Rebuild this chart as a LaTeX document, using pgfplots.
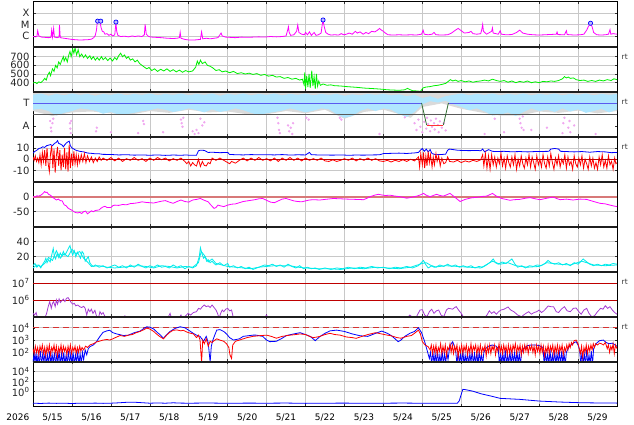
\documentclass[border=0pt]{standalone}
\usepackage{fontspec}
\setmainfont{DejaVu Sans}
\usepackage{pgfplots}
\pgfplotsset{compat=1.18}
\definecolor{mag}{RGB}{255,0,255}
\definecolor{grn}{RGB}{0,240,0}
\definecolor{cyn}{RGB}{0,235,235}
\definecolor{lblue}{RGB}{176,230,255}
\definecolor{lgray}{RGB}{218,218,218}
\definecolor{pinkc}{RGB}{240,168,240}
\definecolor{purp}{RGB}{165,60,210}
\definecolor{tblue}{RGB}{90,90,240}
\definecolor{dred}{RGB}{190,0,0}
\definecolor{dashred}{RGB}{215,50,50}
\definecolor{rosy}{RGB}{215,120,120}
\definecolor{dgreen}{RGB}{50,110,50}
\definecolor{gridc}{RGB}{200,200,200}
\tikzset{rt/.style={anchor=west, inner sep=0pt, xshift=4.5pt, font=\fontsize{7.5}{8}\selectfont, text=black!80}}
\pgfplotsset{
  panel/.style={
    scale only axis, width=584pt, height=45pt, xmin=0, xmax=15,
    anchor=south west, clip mode=individual,
    axis line style={black, line width=0.7pt},
    xtick={1,...,14}, xticklabels={}, xmajorgrids, ymajorgrids,
    grid style={gridc, line width=0.6pt},
    tick align=inside, major tick length=2.5pt,
    tick style={black!80, line width=0.5pt},
    yticklabel style={font=\fontsize{10}{11}\selectfont, text=black!85},
    every axis plot/.append style={no marks, line width=0.8pt},
  },
}
\begin{document}
\begin{tikzpicture}[x=1pt,y=1pt]
\useasboundingbox (0,0) rectangle (634,424);

% ---------- Panel 1: X-ray ----------
\begin{axis}[panel, at={(33pt,377.3pt)}, ymin=-6.93, ymax=-3.04, ytick={-6,-5,-4}, yticklabels={C,M,X}]
\addplot[mag] coordinates {(0.00,-6.05)(0.06,-6.08)(0.10,-6.05)(0.12,-5.55)(0.15,-6.0)(0.22,-6.1)(0.30,-6.12)(0.40,-6.15)(0.46,-6.12)(0.48,-5.5)(0.50,-6.1)(0.53,-5.35)(0.55,-6.1)(0.62,-6.15)(0.67,-6.1)(0.68,-5.05)(0.70,-6.15)(0.80,-6.2)(0.90,-6.25)(1.00,-6.3)(1.10,-6.33)(1.20,-6.35)(1.30,-6.34)(1.40,-6.33)(1.50,-6.28)(1.56,-6.15)(1.60,-5.95)(1.63,-5.5)(1.65,-4.85)(1.68,-4.75)(1.72,-4.8)(1.75,-5.3)(1.78,-5.6)(1.82,-5.65)(1.85,-5.85)(1.90,-5.8)(1.95,-5.95)(2.00,-5.85)(2.05,-6.0)(2.10,-5.9)(2.12,-5.2)(2.13,-4.85)(2.15,-5.6)(2.18,-5.95)(2.25,-6.05)(2.35,-6.02)(2.45,-6.08)(2.55,-6.0)(2.62,-6.05)(2.70,-6.0)(2.80,-6.05)(2.86,-5.9)(2.88,-5.0)(2.91,-5.85)(2.97,-6.05)(3.05,-6.1)(3.15,-6.12)(3.30,-6.15)(3.45,-6.2)(3.60,-6.22)(3.70,-6.2)(3.76,-6.15)(3.78,-5.68)(3.80,-6.2)(3.90,-6.3)(4.00,-6.35)(4.15,-6.35)(4.30,-6.3)(4.33,-5.65)(4.36,-6.25)(4.45,-6.2)(4.55,-6.25)(4.65,-6.2)(4.75,-6.15)(4.80,-5.9)(4.83,-5.75)(4.86,-6.0)(4.95,-6.1)(5.05,-6.12)(5.20,-6.15)(5.35,-6.1)(5.50,-6.12)(5.65,-6.1)(5.80,-6.08)(5.95,-6.1)(6.10,-6.05)(6.25,-6.08)(6.40,-6.05)(6.50,-6.0)(6.54,-5.5)(6.56,-5.2)(6.58,-5.7)(6.62,-5.95)(6.70,-5.9)(6.77,-5.6)(6.80,-5.05)(6.83,-5.7)(6.90,-5.85)(6.97,-5.9)(7.00,-5.7)(7.05,-5.9)(7.10,-5.65)(7.15,-5.95)(7.22,-5.7)(7.27,-5.95)(7.33,-5.9)(7.40,-5.75)(7.43,-5.0)(7.45,-4.65)(7.48,-5.2)(7.52,-5.7)(7.58,-5.85)(7.65,-5.92)(7.75,-5.9)(7.85,-5.92)(7.92,-5.8)(7.98,-5.9)(8.05,-5.85)(8.12,-5.75)(8.20,-5.85)(8.28,-5.6)(8.33,-5.75)(8.40,-5.65)(8.48,-5.85)(8.55,-5.7)(8.62,-5.8)(8.70,-5.6)(8.78,-5.65)(8.85,-5.5)(8.90,-5.35)(8.95,-5.5)(9.00,-5.6)(9.05,-5.75)(9.12,-5.9)(9.25,-5.92)(9.40,-5.9)(9.55,-5.92)(9.70,-5.9)(9.85,-5.92)(9.98,-5.85)(10.02,-5.5)(10.05,-5.85)(10.15,-5.9)(10.25,-5.85)(10.30,-5.7)(10.35,-5.9)(10.50,-5.92)(10.65,-5.9)(10.75,-5.75)(10.85,-5.5)(10.92,-5.35)(11.00,-5.55)(11.08,-5.75)(11.20,-5.7)(11.25,-5.6)(11.30,-5.8)(11.40,-5.85)(11.50,-5.8)(11.53,-5.4)(11.55,-5.0)(11.57,-5.6)(11.65,-5.85)(11.78,-5.6)(11.80,-5.3)(11.82,-5.75)(11.95,-5.85)(12.00,-5.55)(12.03,-5.85)(12.15,-5.9)(12.30,-5.88)(12.42,-5.7)(12.50,-5.5)(12.58,-5.75)(12.70,-5.85)(12.85,-5.9)(13.00,-5.92)(13.15,-5.9)(13.25,-5.88)(13.44,-5.85)(13.46,-5.65)(13.48,-5.88)(13.65,-5.9)(13.70,-5.55)(13.72,-5.88)(13.90,-5.92)(14.05,-5.9)(14.15,-5.85)(14.22,-5.5)(14.27,-5.15)(14.32,-4.95)(14.36,-5.2)(14.40,-5.7)(14.48,-5.9)(14.60,-5.92)(14.70,-5.9)(14.78,-5.85)(14.82,-5.45)(14.84,-5.85)(14.90,-5.8)(15.0,-5.85)};
\addplot[only marks, mark=*, mark size=2.1pt, mark options={draw=blue, fill=blue!25!white, line width=0.7pt}] coordinates {(1.66,-4.72)(1.74,-4.72)(2.13,-4.8)(7.45,-4.62)(14.32,-4.9)};
\end{axis}

% ---------- Panel 2: speed ----------
\begin{axis}[panel, at={(33pt,332.3pt)}, ymin=296, ymax=815, ytick={400,500,600,700}, yticklabels={400,500,600,700}]
\addplot[grn] coordinates {(0,395)(0.05,405)(0.1,390)(0.15,410)(0.2,400)(0.25,420)(0.3,450)(0.34,430)(0.38,490)(0.42,520)(0.45,480)(0.5,560)(0.54,530)(0.58,600)(0.62,570)(0.66,640)(0.7,610)(0.74,660)(0.78,700)(0.8,650)(0.84,690)(0.88,640)(0.92,720)(0.95,760)(0.98,700)(1.02,790)(1.05,740)(1.08,800)(1.12,720)(1.16,780)(1.2,700)(1.25,730)(1.3,690)(1.35,720)(1.4,680)(1.46,710)(1.5,670)(1.55,700)(1.6,660)(1.65,690)(1.7,660)(1.76,700)(1.8,665)(1.86,690)(1.92,655)(1.98,685)(2.04,650)(2.1,690)(2.15,665)(2.2,710)(2.25,740)(2.3,700)(2.35,720)(2.4,680)(2.45,700)(2.5,660)(2.56,675)(2.62,640)(2.68,660)(2.74,620)(2.8,600)(2.86,580)(2.92,560)(2.98,575)(3.05,540)(3.12,560)(3.2,530)(3.28,555)(3.36,535)(3.44,560)(3.52,530)(3.6,550)(3.68,525)(3.76,545)(3.84,520)(3.92,540)(4.0,525)(4.1,535)(4.18,580)(4.22,650)(4.26,610)(4.3,660)(4.35,620)(4.42,640)(4.48,600)(4.55,590)(4.62,570)(4.7,540)(4.78,550)(4.86,525)(4.95,535)(5.05,515)(5.15,530)(5.25,505)(5.35,515)(5.45,500)(5.55,510)(5.65,495)(5.75,505)(5.85,485)(5.95,495)(6.05,475)(6.15,485)(6.25,465)(6.35,470)(6.45,450)(6.55,460)(6.65,440)(6.75,450)(6.85,430)(6.92,440)(6.96,380)(6.98,520)(7.0,330)(7.03,480)(7.06,350)(7.09,500)(7.12,340)(7.16,540)(7.19,360)(7.22,470)(7.25,330)(7.28,500)(7.31,360)(7.34,420)(7.38,370)(7.45,385)(7.55,370)(7.65,375)(7.75,365)(7.9,362)(8.05,355)(8.2,350)(8.35,345)(8.5,338)(8.65,334)(8.8,330)(8.95,325)(9.1,318)(9.25,315)(9.4,312)(9.55,318)(9.62,335)(9.68,320)(9.75,308)(9.85,305)(9.95,300)(10.02,340)(10.1,350)(10.2,355)(10.3,365)(10.4,370)(10.5,380)(10.6,392)(10.68,420)(10.72,435)(10.78,420)(10.85,430)(10.92,415)(11.0,425)(11.1,410)(11.2,420)(11.3,405)(11.4,415)(11.5,420)(11.6,430)(11.7,420)(11.8,440)(11.9,425)(12.0,415)(12.1,425)(12.2,405)(12.3,420)(12.4,400)(12.5,415)(12.6,405)(12.7,420)(12.8,400)(12.9,410)(13.0,400)(13.1,415)(13.2,410)(13.3,420)(13.4,415)(13.5,425)(13.6,445)(13.65,470)(13.7,455)(13.75,465)(13.8,450)(13.88,455)(13.95,435)(14.05,425)(14.15,430)(14.25,415)(14.35,425)(14.45,415)(14.55,430)(14.65,420)(14.75,435)(14.85,425)(14.92,445)(15.0,435)};
\node[rt] at (rel axis cs:1,0.78) {rt};
\end{axis}

% ---------- Panel 3: T / A ----------
\begin{axis}[panel, at={(33pt,287.3pt)}, ymin=0, ymax=1, ytick={0.24,0.75}, yticklabels={A,T}, ymajorgrids=false]
\addplot[fill=lgray, draw=none] coordinates {(0,0.97)(15,0.97)(15,0.57)(14.5,0.52)(14,0.58)(13.5,0.53)(13,0.56)(12.5,0.47)(12,0.47)(11.5,0.54)(11,0.62)(10.5,0.74)(10,0.66)(9.7,0.42)(9.5,0.48)(9,0.6)(8.5,0.55)(8,0.4)(7.5,0.6)(7,0.52)(6.5,0.57)(6,0.5)(5.5,0.5)(5,0.56)(4.5,0.54)(4,0.6)(3.5,0.53)(3,0.57)(2.5,0.49)(2,0.52)(1.5,0.56)(1,0.54)(0.5,0.46)(0,0.57)};
\addplot[fill=lblue, draw=none] coordinates {(0,0.93)(0.2,0.96)(0.4,0.91)(0.6,0.95)(0.8,0.92)(1.0,0.96)(1.2,0.93)(1.4,0.95)(1.6,0.91)(1.8,0.95)(2.0,0.93)(2.2,0.96)(2.4,0.92)(2.6,0.95)(2.8,0.93)(3.0,0.96)(3.2,0.92)(3.4,0.95)(3.6,0.93)(3.8,0.96)(4.0,0.92)(4.2,0.95)(4.4,0.93)(4.6,0.96)(4.8,0.91)(5.0,0.95)(5.2,0.93)(5.4,0.96)(5.6,0.92)(5.8,0.95)(6.0,0.93)(6.2,0.96)(6.4,0.92)(6.6,0.95)(6.8,0.93)(7.0,0.96)(7.2,0.92)(7.4,0.95)(7.6,0.93)(7.8,0.95)(8.0,0.91)(8.2,0.94)(8.4,0.92)(8.6,0.95)(8.8,0.93)(9.0,0.95)(9.2,0.92)(9.4,0.94)(9.6,0.9)(9.8,0.93)(10.0,0.86)(10.2,0.9)(10.4,0.84)(10.6,0.9)(10.8,0.93)(11.0,0.96)(11.2,0.92)(11.4,0.95)(11.6,0.93)(11.8,0.96)(12.0,0.92)(12.2,0.95)(12.4,0.93)(12.6,0.96)(12.8,0.92)(13.0,0.95)(13.2,0.93)(13.4,0.96)(13.6,0.92)(13.8,0.95)(14.0,0.93)(14.2,0.96)(14.4,0.92)(14.6,0.95)(14.8,0.93)(15,0.95)(15,0.6)(14.8,0.54)(14.6,0.62)(14.4,0.57)(14.2,0.53)(14.0,0.61)(13.8,0.56)(13.6,0.63)(13.4,0.55)(13.2,0.6)(13.0,0.57)(12.8,0.63)(12.6,0.55)(12.4,0.46)(12.2,0.54)(12.0,0.49)(11.8,0.47)(11.6,0.56)(11.4,0.63)(11.2,0.59)(11.0,0.66)(10.8,0.72)(10.6,0.8)(10.4,0.76)(10.2,0.79)(10.0,0.72)(9.8,0.55)(9.6,0.44)(9.4,0.5)(9.2,0.6)(9.0,0.63)(8.8,0.57)(8.6,0.63)(8.4,0.57)(8.2,0.46)(8.0,0.42)(7.8,0.5)(7.6,0.61)(7.4,0.63)(7.2,0.58)(7.0,0.54)(6.8,0.59)(6.6,0.63)(6.4,0.58)(6.2,0.55)(6.0,0.52)(5.8,0.48)(5.6,0.53)(5.4,0.59)(5.2,0.63)(5.0,0.58)(4.8,0.55)(4.6,0.61)(4.4,0.54)(4.2,0.59)(4.0,0.63)(3.8,0.58)(3.6,0.55)(3.4,0.6)(3.2,0.63)(3.0,0.59)(2.8,0.57)(2.6,0.53)(2.4,0.5)(2.2,0.49)(2.0,0.55)(1.8,0.51)(1.6,0.58)(1.4,0.61)(1.2,0.63)(1.0,0.57)(0.8,0.53)(0.6,0.47)(0.4,0.57)(0.2,0.62)(0,0.6)};
\addplot[only marks, mark=square*, mark size=0.75pt, pinkc] coordinates {(0.44,0.35)(0.46,0.2)(0.47,0.12)(0.5,0.3)(0.52,0.4)(0.95,0.3)(0.96,0.18)(0.97,0.08)(0.98,0.35)(1.62,0.12)(1.64,0.2)(2.0,0.1)(2.7,0.08)(2.83,0.35)(2.85,0.28)(3.34,0.1)(3.8,0.38)(3.82,0.3)(3.84,0.22)(3.86,0.42)(4.1,0.12)(4.15,0.06)(4.2,0.15)(4.25,0.08)(4.3,0.4)(4.35,0.25)(4.4,0.32)(6.28,0.42)(6.3,0.3)(6.32,0.15)(6.34,0.08)(6.55,0.25)(6.58,0.12)(6.62,0.2)(6.66,0.06)(6.68,0.3)(7.02,0.42)(7.08,0.38)(7.88,0.42)(7.92,0.38)(8.9,0.06)(9.55,0.43)(9.8,0.3)(9.85,0.15)(9.9,0.38)(9.95,0.22)(10.0,0.1)(10.05,0.33)(10.1,0.18)(10.12,0.42)(10.15,0.28)(10.2,0.12)(10.22,0.36)(10.25,0.22)(10.3,0.3)(10.32,0.16)(10.35,0.4)(10.4,0.26)(10.42,0.1)(10.45,0.34)(10.5,0.2)(10.55,0.3)(10.6,0.14)(11.6,0.06)(11.86,0.4)(12.1,0.1)(12.5,0.4)(12.52,0.3)(12.55,0.2)(12.58,0.45)(12.6,0.15)(12.8,0.15)(13.2,0.2)(13.6,0.08)(13.62,0.3)(13.65,0.42)(13.75,0.2)(13.78,0.35)(13.8,0.1)(13.9,0.25)(14.45,0.06)};
\addplot[black!65, line width=0.7pt] coordinates {(0,0.5)(15,0.5)};
\addplot[tblue] coordinates {(0,0.75)(9.98,0.75)};
\addplot[tblue] coordinates {(10.67,0.75)(15,0.75)};
\addplot[dgreen] coordinates {(9.98,0.75)(10.11,0.26)};
\addplot[dgreen] coordinates {(10.54,0.26)(10.67,0.75)};
\addplot[red!80, line width=1pt] coordinates {(10.11,0.26)(10.54,0.26)};
\node[rt] at (rel axis cs:1,0.78) {rt};
\end{axis}

% ---------- Panel 4: Bt / Bz ----------
\begin{axis}[panel, at={(33pt,242.3pt)}, ymin=-20, ymax=20, ytick={-10,0,10}, yticklabels={-10,0,10}]
\addplot[blue] coordinates {(0,5.5)(0.05,7)(0.1,8)(0.15,9.5)(0.2,10)(0.25,11)(0.3,10.5)(0.35,12)(0.4,12.5)(0.45,13)(0.5,12)(0.55,14)(0.6,15)(0.63,16.5)(0.66,14)(0.7,13.5)(0.75,12.5)(0.78,11)(0.82,13)(0.86,14.5)(0.9,15.5)(0.93,16)(0.96,12)(1.0,10)(1.05,9)(1.1,8)(1.15,7.5)(1.2,7)(1.3,6.5)(1.4,5.5)(1.5,5.2)(1.6,4.8)(1.7,4.8)(1.8,4.3)(2.0,4.2)(2.2,3.8)(2.4,4)(2.6,3.6)(2.8,3.8)(3.0,3.5)(3.2,3.8)(3.4,3.4)(3.6,3.7)(3.8,3.5)(3.95,3.8)(4.0,3.5)(4.2,3.6)(4.25,7.5)(4.3,8)(4.4,7.8)(4.5,6)(4.6,6.2)(4.8,5.8)(5.0,6)(5.05,4.2)(5.2,4)(5.4,3.8)(5.6,4.1)(5.8,3.9)(6.0,4)(6.2,3.8)(6.4,4.1)(6.6,3.7)(6.8,3.9)(7.0,3.8)(7.1,6)(7.15,4)(7.3,3.8)(7.5,3.7)(7.7,3.6)(7.9,3.8)(8.1,3.5)(8.3,3.7)(8.5,3.6)(8.7,3.8)(8.9,3.9)(9.0,5)(9.2,5.2)(9.4,5.4)(9.6,5.1)(9.8,5.6)(9.9,6)(9.95,8)(10.0,9.5)(10.05,7)(10.1,9)(10.15,6.5)(10.2,8.5)(10.25,5)(10.35,4)(10.5,4.2)(10.6,4.5)(10.65,8)(10.7,9)(10.8,8.5)(10.9,8)(11.0,7.8)(11.2,7.6)(11.4,7.8)(11.5,7.5)(11.55,9)(11.6,6.5)(11.7,8.5)(11.8,7)(11.9,6.8)(12.1,7)(12.3,6.6)(12.5,6.8)(12.7,6.5)(12.9,6.8)(13.1,6.9)(13.25,7)(13.3,9)(13.4,9.5)(13.5,9)(13.55,7)(13.7,6.8)(13.9,6.5)(14.1,6.8)(14.3,6.2)(14.5,6.8)(14.7,6.5)(14.85,5.8)(15,6)};
\addplot[red] coordinates {(0,2)(0.03,-1)(0.06,3)(0.09,-2)(0.12,1)(0.15,-3)(0.18,4)(0.21,-5)(0.24,6)(0.27,-2)(0.3,8)(0.33,-6)(0.36,10)(0.39,-4)(0.42,-11)(0.45,5)(0.48,12)(0.51,-8)(0.54,9)(0.57,-12)(0.6,3)(0.63,11)(0.66,-6)(0.69,8)(0.72,-10)(0.75,4)(0.78,-7)(0.81,10)(0.84,-9)(0.87,6)(0.9,-11)(0.93,13)(0.96,-8)(0.99,5)(1.02,-6)(1.05,7)(1.08,-4)(1.11,4)(1.14,-5)(1.17,3)(1.2,-3)(1.24,4)(1.28,-2)(1.32,5)(1.36,-3)(1.4,3)(1.45,-2)(1.5,2)(1.55,-3)(1.6,1)(1.65,-2)(1.7,2)(1.75,-1)(1.8,1)(1.9,-1)(2.0,1.5)(2.1,-1.5)(2.2,1)(2.3,-2)(2.4,0.5)(2.5,-1)(2.6,1.5)(2.7,-1)(2.8,0.5)(2.9,-2)(3.0,1)(3.1,-1)(3.2,1.5)(3.3,-0.5)(3.4,1)(3.5,-1.5)(3.6,0.5)(3.7,-1)(3.8,1)(3.9,-2)(3.95,-4)(4.0,-2)(4.05,-6)(4.1,-3)(4.15,-5)(4.2,-6)(4.25,0)(4.3,-6.5)(4.35,-2)(4.4,-5.5)(4.45,-6)(4.5,-3)(4.55,-4)(4.6,1)(4.7,-1)(4.8,1)(4.9,-1)(5.0,-3)(5.05,-4)(5.1,-2)(5.2,-3.5)(5.3,-1)(5.4,1)(5.5,-1.5)(5.6,1)(5.7,-1)(5.8,1.5)(5.9,-1)(6.0,0.5)(6.1,-1.5)(6.2,1)(6.3,-2)(6.4,1)(6.5,-1)(6.6,1.5)(6.7,-1)(6.8,1)(6.9,-1.5)(7.0,1)(7.1,-1)(7.2,0.5)(7.3,-1)(7.4,1)(7.5,-1.5)(7.6,-2)(7.7,-0.5)(7.8,-2)(7.9,-1)(8.0,0.5)(8.1,-1)(8.2,1)(8.3,-1.5)(8.4,0.5)(8.5,-1)(8.6,1)(8.7,-1)(8.8,0.5)(8.9,-1.5)(9.0,-2)(9.1,-1)(9.2,-2.5)(9.3,-1)(9.4,-2)(9.5,-0.5)(9.6,-2)(9.7,0)(9.8,-1.5)(9.9,2)(9.93,-7)(9.96,5)(10.0,-5)(10.03,6)(10.06,-8)(10.09,3)(10.12,-6)(10.15,7)(10.18,-3)(10.21,4)(10.25,-7)(10.28,2)(10.31,-5)(10.35,5)(10.38,-2)(10.42,3)(10.46,-6)(10.5,1)(10.55,-4)(10.6,-3)(10.65,2)(10.7,-2)(10.8,-2.5)(10.9,-1)(11.0,-3)(11.1,-1.5)(11.2,-2.5)(11.3,-1)(11.4,-2)(11.5,-0.5)(11.55,4)(11.58,-6)(11.62,5)(11.66,-8)(11.7,3)(11.74,-9)(11.78,4)(11.82,-5)(11.86,2)(11.9,-7)(11.94,1)(11.98,-4)(12.02,5)(12.06,-6)(12.1,1)(12.14,-8)(12.18,3)(12.22,-3)(12.26,-7)(12.3,2)(12.34,-5)(12.38,4)(12.42,-9)(12.46,0)(12.5,-6)(12.54,3)(12.58,-4)(12.62,-8)(12.66,1)(12.7,-5)(12.74,4)(12.78,-7)(12.82,2)(12.86,-3)(12.9,-9)(12.94,3)(12.98,-5)(13.02,0)(13.06,-7)(13.1,4)(13.14,-4)(13.18,-8)(13.22,2)(13.26,-6)(13.3,5)(13.34,-3)(13.38,-9)(13.42,1)(13.46,-5)(13.5,3)(13.54,-7)(13.58,0)(13.62,-4)(13.66,4)(13.7,-8)(13.74,2)(13.78,-5)(13.82,-2)(13.86,-9)(13.9,3)(13.94,-4)(13.98,-7)(14.02,1)(14.06,-5)(14.1,3)(14.14,-8)(14.18,0)(14.22,-4)(14.26,-9)(14.3,2)(14.34,-6)(14.38,1)(14.42,-8)(14.46,-3)(14.5,-9)(14.54,2)(14.58,-5)(14.62,4)(14.66,-7)(14.7,-1)(14.74,-8)(14.78,3)(14.82,-5)(14.86,-2)(14.9,-9)(14.94,1)(14.97,-4)(15,-3)};
\addplot[dred, line width=0.7pt] coordinates {(0,0)(15,0)};
\node[rt] at (rel axis cs:1,0.78) {rt};
\end{axis}

% ---------- Panel 5: Dst ----------
\begin{axis}[panel, at={(33pt,197.3pt)}, ymin=-100, ymax=50, ytick={-50,0}, yticklabels={-50,0}]
\addplot[rosy, line width=1.8pt] coordinates {(0,0)(15,0)};
\addplot[mag] coordinates {(0,0)(0.05,-1)(0.1,3)(0.15,2)(0.2,5)(0.25,10)(0.3,17)(0.33,14)(0.36,15)(0.4,8)(0.45,5)(0.5,-2)(0.55,-6)(0.6,-11)(0.65,-8)(0.7,-13)(0.75,-14)(0.8,-27)(0.85,-30)(0.9,-38)(0.95,-42)(1.0,-45)(1.05,-50)(1.1,-53)(1.15,-54)(1.2,-52)(1.25,-56)(1.3,-50)(1.35,-48)(1.4,-57)(1.45,-52)(1.5,-47)(1.55,-50)(1.6,-46)(1.7,-44)(1.75,-38)(1.8,-34)(1.85,-32)(1.9,-36)(2.0,-36)(2.05,-30)(2.1,-28)(2.2,-29)(2.3,-26)(2.4,-27)(2.5,-23)(2.6,-22)(2.7,-20)(2.8,-17)(2.9,-19)(3.0,-20)(3.1,-21)(3.2,-18)(3.3,-15)(3.4,-13)(3.5,-18)(3.6,-22)(3.7,-16)(3.8,-11)(3.9,-16)(4.0,-18)(4.1,-11)(4.2,-9)(4.3,-6)(4.4,-12)(4.5,-17)(4.55,-25)(4.65,-39)(4.7,-36)(4.75,-28)(4.8,-30)(4.9,-33)(5.0,-28)(5.1,-25)(5.2,-24)(5.3,-20)(5.4,-16)(5.5,-14)(5.6,-12)(5.7,-10)(5.8,-7)(5.9,-6)(6.0,-12)(6.1,-18)(6.2,-20)(6.3,-14)(6.4,-8)(6.5,-6)(6.6,-10)(6.7,-14)(6.8,-16)(6.9,-17)(7.0,-14)(7.1,-11)(7.2,-10)(7.37,-11)(7.5,-9)(7.71,-6)(7.9,-7)(8.06,-8)(8.3,-9)(8.49,-10)(8.58,-5)(8.66,0)(8.77,5)(8.87,8)(8.95,6)(9.05,4)(9.17,5)(9.3,2)(9.43,0)(9.6,-5)(9.72,-2)(9.86,2)(9.95,6)(10.03,11)(10.1,5)(10.2,0)(10.3,5)(10.37,8)(10.45,4)(10.54,2)(10.6,5)(10.71,11)(10.8,2)(10.97,-16)(11.1,-9)(11.25,-4)(11.4,-2)(11.55,1)(11.65,2)(11.72,6)(11.8,11)(11.9,2)(12.04,-6)(12.15,-9)(12.25,-12)(12.35,-10)(12.5,-9)(12.65,-5)(12.77,-3)(12.9,-7)(13.02,-10)(13.2,-5)(13.36,-1)(13.45,-6)(13.54,-10)(13.7,-8)(13.87,-11)(14.05,-8)(14.22,-9)(14.4,-16)(14.56,-22)(14.7,-24)(14.82,-28)(14.92,-31)(15,-33)};
\end{axis}

% ---------- Panel 6: cyan ----------
\begin{axis}[panel, at={(33pt,152.3pt)}, ymin=0, ymax=60, ytick={20,40}, yticklabels={20,40}]
\addplot[cyn] coordinates {(0,5)(0.1,9)(0.2,7)(0.3,11)(0.4,19)(0.5,15)(0.6,28)(0.7,18)(0.8,24)(0.9,20)(1.0,30)(1.1,24)(1.2,27)(1.3,18)(1.4,13)(1.5,7)(1.7,8)(1.9,6)(2.1,5)(2.3,6)(2.5,7)(2.7,8)(2.9,7)(3.1,5)(3.3,8)(3.5,7)(3.7,5)(3.9,7)(4.1,6)(4.25,12)(4.32,27)(4.4,22)(4.5,13)(4.6,17)(4.7,11)(4.85,9)(5.0,7)(5.2,6)(5.4,5)(5.6,4)(5.8,6)(6.0,7)(6.2,8)(6.4,8)(6.6,8)(6.8,6)(7.0,5)(7.3,4)(7.6,4)(7.9,3)(8.2,5)(8.5,4)(8.8,6)(9.1,5)(9.4,4)(9.7,6)(10.0,11)(10.1,12)(10.3,6)(10.6,8)(10.9,7)(11.2,6)(11.5,5)(11.8,14)(12.0,10)(12.2,12)(12.4,8)(12.7,6)(13.0,7)(13.2,12)(13.5,10)(13.8,9)(14.1,14)(14.4,9)(14.7,8)(15,9)};
\addplot[cyn] coordinates {(0,8)(0.05,11)(0.1,6)(0.15,9)(0.2,5)(0.25,10)(0.3,14)(0.33,18)(0.36,12)(0.4,16)(0.44,13)(0.48,22)(0.52,31)(0.55,20)(0.58,17)(0.62,24)(0.66,19)(0.7,25)(0.74,21)(0.78,27)(0.82,22)(0.86,26)(0.9,30)(0.95,35)(0.98,28)(1.02,22)(1.06,28)(1.1,20)(1.14,26)(1.18,22)(1.22,18)(1.26,27)(1.3,24)(1.34,14)(1.38,17)(1.42,20)(1.46,12)(1.5,9)(1.55,7)(1.6,9)(1.7,6)(1.8,8)(1.9,5)(2.0,7)(2.1,9)(2.2,6)(2.3,8)(2.4,5)(2.5,9)(2.6,6)(2.7,10)(2.8,7)(2.9,5)(3.0,8)(3.1,6)(3.2,9)(3.3,6)(3.4,7)(3.5,5)(3.6,9)(3.7,6)(3.8,8)(3.9,4)(4.0,7)(4.1,5)(4.2,8)(4.27,20)(4.3,32)(4.34,24)(4.38,18)(4.42,20)(4.46,14)(4.5,16)(4.55,12)(4.6,14)(4.65,11)(4.7,9)(4.8,12)(4.9,8)(5.0,11)(5.05,6)(5.15,8)(5.25,5)(5.35,7)(5.45,4)(5.55,6)(5.65,3)(5.75,5)(5.85,7)(5.95,9)(6.05,8)(6.15,10)(6.25,7)(6.35,9)(6.45,6)(6.55,10)(6.65,7)(6.75,5)(6.85,8)(6.95,4)(7.05,6)(7.15,4)(7.25,5)(7.35,3)(7.5,5)(7.65,3)(7.8,5)(7.95,4)(8.1,6)(8.25,4)(8.4,6)(8.55,5)(8.7,7)(8.85,5)(9.0,6)(9.15,4)(9.3,6)(9.45,5)(9.6,7)(9.75,5)(9.9,8)(9.97,12)(10.03,15)(10.08,10)(10.15,5)(10.25,8)(10.35,6)(10.45,9)(10.55,7)(10.65,10)(10.75,7)(10.85,9)(10.95,6)(11.05,8)(11.15,6)(11.25,8)(11.35,5)(11.45,7)(11.55,6)(11.65,9)(11.75,13)(11.82,17)(11.88,12)(11.95,10)(12.05,13)(12.15,11)(12.25,15)(12.3,17)(12.38,10)(12.45,6)(12.55,8)(12.65,5)(12.75,8)(12.85,7)(12.95,9)(13.05,8)(13.15,11)(13.23,15)(13.3,12)(13.4,10)(13.5,12)(13.6,9)(13.7,11)(13.8,8)(13.9,12)(14.0,10)(14.13,17)(14.2,14)(14.3,10)(14.4,8)(14.5,10)(14.6,8)(14.7,10)(14.8,9)(14.9,11)(15,10)};
\end{axis}

% ---------- Panel 7: purple (log) ----------
\begin{axis}[panel, at={(33pt,107.3pt)}, ymin=5, ymax=7.69, ytick={6,7}, yticklabels={10\textsuperscript{6},10\textsuperscript{7}}, ymajorgrids=false]
\addplot[dred, line width=0.8pt] coordinates {(0,6)(15,6)};
\addplot[dred, line width=0.8pt] coordinates {(0,7)(15,7)};
\addplot[purp] coordinates {(0,5.2)(0.04,5.1)(0.08,5.25)(0.12,4.9)(0.2,4.8)(0.3,4.9)(0.35,5.2)(0.39,5.6)(0.43,5.9)(0.47,5.5)(0.5,5.8)(0.53,5.9)(0.57,5.6)(0.6,6.0)(0.63,5.75)(0.67,6.06)(0.7,5.85)(0.74,5.95)(0.78,6.05)(0.82,5.9)(0.86,6.1)(0.9,6.14)(0.94,6.0)(0.98,5.85)(1.02,5.75)(1.06,5.8)(1.1,5.65)(1.15,5.7)(1.2,5.6)(1.25,5.55)(1.3,5.62)(1.34,5.5)(1.38,5.1)(1.42,5.45)(1.46,5.3)(1.5,5.45)(1.54,5.2)(1.59,5.38)(1.63,5.05)(1.67,4.8)(1.72,5.3)(1.76,5.15)(1.8,5.25)(1.85,5.0)(1.9,4.9)(2.0,4.8)(2.2,4.9)(2.3,4.85)(2.36,5.05)(2.4,4.8)(2.6,4.7)(3.0,4.6)(3.4,4.8)(3.48,5.0)(3.52,5.2)(3.56,4.9)(3.75,4.9)(3.8,5.1)(3.84,4.9)(3.9,5.0)(3.98,5.2)(4.05,5.1)(4.12,5.25)(4.2,5.3)(4.25,5.5)(4.3,5.45)(4.35,5.6)(4.4,5.7)(4.45,5.6)(4.5,5.65)(4.55,5.55)(4.6,5.7)(4.65,5.55)(4.7,5.4)(4.74,5.2)(4.78,4.9)(4.82,5.2)(4.86,5.4)(4.9,5.3)(4.95,5.45)(5.0,5.5)(5.05,5.35)(5.1,5.4)(5.14,5.0)(5.2,4.8)(5.5,4.6)(5.9,4.8)(6.0,5.1)(6.05,4.8)(6.5,4.6)(7.0,4.7)(7.5,4.6)(8.0,4.7)(8.5,4.6)(9.0,4.7)(9.5,4.8)(9.62,4.95)(9.68,5.1)(9.75,4.95)(9.85,5.0)(9.94,5.4)(10.0,5.42)(10.06,5.1)(10.12,5.0)(10.18,5.3)(10.24,5.45)(10.3,5.2)(10.36,5.35)(10.42,5.4)(10.48,5.1)(10.55,5.0)(10.62,5.4)(10.67,5.5)(10.72,5.48)(10.78,5.45)(10.83,5.55)(10.87,5.6)(10.93,5.4)(11.0,5.2)(11.05,5.0)(11.1,4.9)(11.3,4.7)(11.5,4.8)(11.6,4.95)(11.66,5.1)(11.72,5.35)(11.78,5.2)(11.84,5.3)(11.9,5.15)(11.96,5.3)(12.02,5.4)(12.1,5.45)(12.2,5.58)(12.27,5.4)(12.35,5.3)(12.45,5.1)(12.55,5.0)(12.6,5.1)(12.66,5.2)(12.73,5.3)(12.8,5.15)(12.87,5.25)(12.94,5.3)(13.0,5.4)(13.06,5.25)(13.12,5.35)(13.18,5.5)(13.23,5.64)(13.3,5.6)(13.37,5.6)(13.44,5.3)(13.5,5.25)(13.57,5.45)(13.65,5.6)(13.72,5.35)(13.8,5.3)(13.88,5.5)(13.95,5.52)(14.02,5.3)(14.08,5.15)(14.15,5.4)(14.22,5.5)(14.28,5.2)(14.35,5.0)(14.42,5.05)(14.5,5.3)(14.58,5.5)(14.64,5.45)(14.7,5.66)(14.76,5.5)(14.82,5.6)(14.88,5.4)(14.94,5.25)(15,5.15)};
\node[rt] at (rel axis cs:1,0.78) {rt};
\end{axis}

% ---------- Panel 8: electrons (log) ----------
\begin{axis}[panel, at={(33pt,62.3pt)}, ymin=1.24, ymax=4.9, ytick={2,3,4}, yticklabels={10\textsuperscript{2},10\textsuperscript{3},10\textsuperscript{4}}]
\addplot[dashred, line width=1pt, dash pattern=on 6pt off 4pt] coordinates {(0,4)(15,4)};
\addplot[blue] coordinates {(0,1.2)(0.03,1.9)(0.05,1.1)(0.08,2.0)(0.1,1.0)(0.13,1.8)(0.16,1.1)(0.19,2.1)(0.22,1.0)(0.25,1.9)(0.28,1.2)(0.31,2.0)(0.34,1.0)(0.37,1.8)(0.4,1.1)(0.43,2.1)(0.46,1.0)(0.49,1.9)(0.52,1.1)(0.55,2.0)(0.58,1.0)(0.61,1.8)(0.64,1.2)(0.67,2.1)(0.7,1.0)(0.73,1.9)(0.76,1.1)(0.79,2.0)(0.82,1.0)(0.85,1.8)(0.88,1.1)(0.91,2.1)(0.94,1.0)(0.97,1.9)(1.0,1.1)(1.03,2.0)(1.06,1.0)(1.09,1.8)(1.12,1.2)(1.15,2.0)(1.18,1.0)(1.21,1.9)(1.24,1.1)(1.27,2.0)(1.3,1.4)(1.34,2.2)(1.38,1.8)(1.42,2.3)(1.46,2.46)(1.55,2.6)(1.63,2.87)(1.72,3.3)(1.8,3.63)(1.9,3.75)(1.97,3.8)(2.05,3.6)(2.15,3.5)(2.32,3.37)(2.45,3.4)(2.6,3.6)(2.75,3.73)(2.85,3.95)(2.92,4.08)(3.0,4.05)(3.1,3.9)(3.2,3.6)(3.26,3.45)(3.35,3.14)(3.42,3.4)(3.52,3.7)(3.65,3.95)(3.78,4.08)(3.9,4.0)(4.0,3.8)(4.12,3.54)(4.2,3.4)(4.29,3.3)(4.38,2.9)(4.45,3.3)(4.5,2.8)(4.55,1.2)(4.58,2.5)(4.62,3.0)(4.68,3.5)(4.72,3.81)(4.8,3.85)(4.9,3.7)(4.97,3.5)(5.05,3.2)(5.15,3.0)(5.3,3.1)(5.4,3.3)(5.52,3.35)(5.65,3.4)(5.73,3.4)(5.82,3.35)(5.9,3.3)(6.0,3.0)(6.08,2.87)(6.25,2.9)(6.4,3.15)(6.51,3.37)(6.7,3.5)(6.86,3.6)(7.0,3.45)(7.12,3.3)(7.25,2.95)(7.37,3.29)(7.5,3.55)(7.63,3.75)(7.8,3.81)(8.0,3.7)(8.2,3.5)(8.4,3.35)(8.6,3.3)(8.8,3.55)(8.96,3.73)(9.1,3.55)(9.2,3.37)(9.3,3.1)(9.38,2.87)(9.45,3.0)(9.55,3.3)(9.68,3.55)(9.8,3.7)(9.9,4.0)(9.98,3.6)(10.06,2.87)(10.12,2.2)(10.18,1.5)(10.21,2.0)(10.24,1.0)(10.27,2.1)(10.3,1.1)(10.33,1.9)(10.36,1.0)(10.39,2.2)(10.42,1.0)(10.45,1.8)(10.48,1.1)(10.51,2.1)(10.54,1.0)(10.57,1.9)(10.6,1.2)(10.63,2.0)(10.66,1.4)(10.7,2.4)(10.74,2.7)(10.78,2.87)(10.82,2.5)(10.86,2.0)(10.89,1.0)(10.92,2.1)(10.95,1.1)(10.98,1.9)(11.01,1.0)(11.04,2.2)(11.07,1.0)(11.1,1.8)(11.13,1.1)(11.16,2.0)(11.19,1.0)(11.22,1.9)(11.25,1.2)(11.28,2.1)(11.31,1.0)(11.34,1.9)(11.37,1.1)(11.4,2.0)(11.43,1.0)(11.46,2.1)(11.49,1.2)(11.52,1.9)(11.55,1.0)(11.58,2.0)(11.62,2.3)(11.7,2.5)(11.8,2.6)(11.9,2.5)(11.95,2.3)(11.98,1.0)(12.01,2.0)(12.04,1.1)(12.07,1.9)(12.1,1.0)(12.13,2.2)(12.16,1.0)(12.19,1.8)(12.22,1.1)(12.25,2.1)(12.28,1.0)(12.31,1.9)(12.34,1.2)(12.37,2.0)(12.4,1.0)(12.43,2.1)(12.46,1.1)(12.49,1.9)(12.52,1.0)(12.55,2.0)(12.6,2.3)(12.7,2.55)(12.8,2.6)(12.9,2.6)(13.0,2.55)(13.1,2.4)(13.13,1.0)(13.16,2.0)(13.19,1.1)(13.22,1.9)(13.25,1.0)(13.28,2.2)(13.31,1.0)(13.34,1.8)(13.37,1.1)(13.4,2.1)(13.43,1.0)(13.46,1.9)(13.49,1.2)(13.52,2.0)(13.55,1.0)(13.58,2.1)(13.61,1.1)(13.64,1.9)(13.67,1.0)(13.7,2.0)(13.76,2.4)(13.85,2.7)(13.95,2.87)(14.0,2.6)(14.04,2.2)(14.07,1.0)(14.1,2.0)(14.13,1.1)(14.16,1.9)(14.19,1.0)(14.22,2.2)(14.25,1.0)(14.28,1.8)(14.31,1.1)(14.34,2.1)(14.37,1.0)(14.4,2.3)(14.46,2.7)(14.55,2.95)(14.65,3.0)(14.72,2.8)(14.8,2.7)(14.88,2.75)(14.95,2.6)(15,2.5)};
\addplot[red] coordinates {(0,2.3)(0.03,1.9)(0.06,2.5)(0.09,2.0)(0.12,2.4)(0.15,1.8)(0.18,2.5)(0.21,2.1)(0.24,2.6)(0.27,1.9)(0.3,2.4)(0.33,1.7)(0.36,2.5)(0.39,2.0)(0.42,2.6)(0.45,1.8)(0.48,2.4)(0.51,2.1)(0.54,2.6)(0.57,1.9)(0.6,2.5)(0.63,1.7)(0.66,2.4)(0.69,2.0)(0.72,2.6)(0.75,1.9)(0.78,2.5)(0.81,2.1)(0.84,2.4)(0.87,1.8)(0.9,2.5)(0.93,2.0)(0.96,2.6)(0.99,1.9)(1.02,2.4)(1.05,2.1)(1.08,2.5)(1.11,1.9)(1.14,2.4)(1.17,2.0)(1.2,2.5)(1.23,2.1)(1.26,2.4)(1.3,2.2)(1.35,2.5)(1.4,2.4)(1.46,2.6)(1.55,2.7)(1.63,2.85)(1.7,2.9)(1.8,3.0)(1.9,3.05)(1.97,3.0)(2.05,3.1)(2.15,3.25)(2.24,3.37)(2.35,3.3)(2.45,3.4)(2.55,3.45)(2.65,3.6)(2.75,3.7)(2.85,3.85)(2.92,3.97)(3.0,3.9)(3.1,3.7)(3.17,3.5)(3.25,3.3)(3.3,3.2)(3.35,3.1)(3.42,3.35)(3.5,3.6)(3.6,3.8)(3.7,3.82)(3.8,3.75)(3.86,3.8)(3.95,3.65)(4.05,3.55)(4.12,3.5)(4.2,3.2)(4.25,3.4)(4.29,3.0)(4.33,1.2)(4.36,3.0)(4.4,2.7)(4.45,3.1)(4.5,2.5)(4.55,2.9)(4.6,2.8)(4.65,2.95)(4.72,3.1)(4.8,3.0)(4.9,2.9)(4.97,2.7)(5.03,2.4)(5.06,1.78)(5.1,1.5)(5.13,2.6)(5.2,2.9)(5.3,3.0)(5.4,3.1)(5.5,3.2)(5.65,3.3)(5.8,3.35)(6.0,3.4)(6.12,3.3)(6.25,3.15)(6.4,3.3)(6.6,3.4)(6.75,3.45)(6.86,3.5)(7.0,3.45)(7.1,3.3)(7.2,3.2)(7.3,3.25)(7.37,3.3)(7.5,3.45)(7.63,3.55)(7.75,3.45)(7.89,3.4)(8.05,3.25)(8.2,3.2)(8.3,3.14)(8.45,3.3)(8.6,3.45)(8.8,3.6)(8.95,3.5)(9.1,3.4)(9.2,3.35)(9.35,3.2)(9.45,3.15)(9.6,3.3)(9.72,3.37)(9.82,3.6)(9.9,3.81)(9.95,3.5)(10.0,2.87)(10.07,2.6)(10.15,2.46)(10.2,2.2)(10.23,2.6)(10.26,1.9)(10.29,2.5)(10.32,2.0)(10.35,2.6)(10.38,1.8)(10.41,2.4)(10.44,2.1)(10.47,2.7)(10.5,1.9)(10.53,2.5)(10.56,2.0)(10.59,2.6)(10.62,1.7)(10.65,2.4)(10.68,2.2)(10.71,2.7)(10.74,2.0)(10.77,2.6)(10.8,1.9)(10.83,2.5)(10.86,2.1)(10.89,2.6)(10.92,1.6)(10.95,2.4)(10.98,2.0)(11.01,2.6)(11.04,1.9)(11.07,2.5)(11.1,2.1)(11.13,2.6)(11.16,1.8)(11.19,2.4)(11.22,2.0)(11.25,2.7)(11.28,1.9)(11.31,2.5)(11.34,2.2)(11.37,2.6)(11.4,1.8)(11.43,2.5)(11.46,2.0)(11.49,2.6)(11.52,1.9)(11.55,2.4)(11.58,2.1)(11.61,2.6)(11.64,1.7)(11.67,2.5)(11.7,2.0)(11.73,2.6)(11.76,1.9)(11.79,2.5)(11.82,2.2)(11.85,2.6)(11.88,1.8)(11.91,2.4)(11.94,2.1)(11.97,2.7)(12.0,2.0)(12.03,2.5)(12.06,1.9)(12.09,2.6)(12.12,2.1)(12.15,2.5)(12.18,1.8)(12.21,2.6)(12.24,2.0)(12.27,2.5)(12.3,1.9)(12.33,2.6)(12.36,2.2)(12.39,2.7)(12.42,1.9)(12.45,2.5)(12.48,2.1)(12.51,2.6)(12.54,1.8)(12.57,2.5)(12.6,2.0)(12.63,2.6)(12.66,2.1)(12.69,2.6)(12.72,1.9)(12.75,2.5)(12.78,2.2)(12.81,2.6)(12.84,2.0)(12.87,2.5)(12.9,1.8)(12.93,2.6)(12.96,2.1)(12.99,2.5)(13.02,1.9)(13.05,2.6)(13.08,2.0)(13.11,2.5)(13.14,1.7)(13.17,2.4)(13.2,2.0)(13.23,2.6)(13.26,1.9)(13.29,2.5)(13.32,2.1)(13.35,2.6)(13.38,1.8)(13.41,2.5)(13.44,2.0)(13.47,2.6)(13.5,1.9)(13.53,2.5)(13.56,2.1)(13.59,2.6)(13.62,1.8)(13.65,2.4)(13.68,2.1)(13.71,2.6)(13.74,2.2)(13.77,2.7)(13.8,2.4)(13.83,2.8)(13.86,2.6)(13.9,2.95)(13.95,3.0)(14.0,2.7)(14.03,2.3)(14.06,1.9)(14.09,2.5)(14.12,1.6)(14.15,2.4)(14.18,2.0)(14.21,2.6)(14.24,1.9)(14.27,2.5)(14.3,2.1)(14.33,2.6)(14.36,2.2)(14.39,2.7)(14.42,2.4)(14.45,2.7)(14.5,2.6)(14.55,2.75)(14.6,2.7)(14.65,2.6)(14.7,2.8)(14.75,2.3)(14.78,2.6)(14.81,2.0)(14.84,2.5)(14.87,2.2)(14.9,2.7)(14.93,1.9)(14.96,2.6)(15,2.3)};
\node[rt] at (rel axis cs:1,0.78) {rt};
\end{axis}

% ---------- Panel 9: bottom (log) ----------
\begin{axis}[panel, at={(33pt,17.3pt)}, ymin=-3, ymax=6, ytick={0,2,4}, yticklabels={10\textsuperscript{0},10\textsuperscript{2},10\textsuperscript{4}},
  extra x ticks={0.5,1.5,...,14.5},
  extra x tick labels={5/15,5/16,5/17,5/18,5/19,5/20,5/21,5/22,5/23,5/24,5/25,5/26,5/27,5/28,5/29},
  extra x tick style={grid=none, tick style={draw=none}, xticklabel style={font=\fontsize{9}{10}\selectfont, text=black, yshift=-4pt}}]
\addplot[blue] coordinates {(0,-2.3)(0.2,-2.35)(0.4,-2.28)(0.6,-2.33)(0.8,-2.3)(1.0,-2.36)(1.2,-2.3)(1.4,-2.32)(1.6,-2.28)(1.8,-2.33)(2.0,-2.3)(2.2,-2.22)(2.4,-2.12)(2.6,-2.1)(2.8,-2.2)(3.0,-2.3)(3.2,-2.25)(3.4,-2.3)(3.6,-2.22)(3.8,-2.28)(4.0,-2.3)(4.5,-2.26)(5.0,-2.32)(5.5,-2.28)(6.0,-2.3)(6.5,-2.27)(7.0,-2.33)(7.5,-2.3)(8.0,-2.28)(8.5,-2.32)(9.0,-2.3)(9.5,-2.27)(10.0,-2.31)(10.5,-2.3)(10.9,-2.3)(10.95,-1.8)(11.0,-0.5)(11.04,0.47)(11.1,0.42)(11.3,0.1)(11.5,-0.4)(11.75,-0.85)(12.0,-1.33)(12.5,-1.53)(13.0,-1.87)(13.54,-2.07)(14.05,-2.2)(14.5,-2.25)(15,-2.28)};
\end{axis}

% separators
\foreach \yy in {377.3,332.3,287.3,242.3,197.3,152.3,107.3,62.3}
  \draw[line width=2.2pt, black!88] (32.7,\yy) -- (617.3,\yy);
\node[font=\fontsize{9}{10}\selectfont, text=black] at (17.8,6.5) {2026};
\end{tikzpicture}
\end{document}
